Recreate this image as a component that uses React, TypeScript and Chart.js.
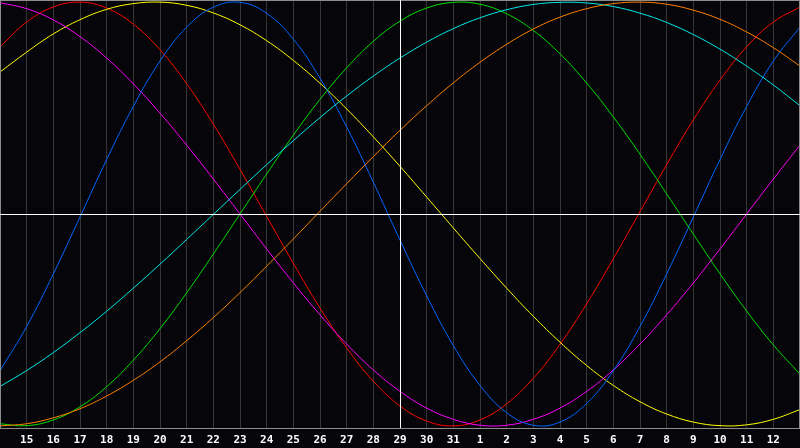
import { useEffect, useRef } from "react";
import { Chart, ChartConfiguration, Plugin, registerables } from "chart.js";

Chart.register(...registerables);

// days shown: 14th (left edge) through 13th of next month (right edge)
const days = [
  "14", "15", "16", "17", "18", "19", "20", "21", "22", "23", "24", "25", "26", "27", "28", "29", "30", "31",
  "1", "2", "3", "4", "5", "6", "7", "8", "9", "10", "11", "12", "13",
];
const todayIndex = 15; // "29"

const red = [
  0.789, 0.906, 0.977, 1.0, 0.972, 0.896, 0.775, 0.615, 0.424, 0.211, -0.011, -0.233, -0.444, -0.632, -0.789, -0.906,
  -0.977, -1.0, -0.972, -0.896, -0.775, -0.615, -0.424, -0.211, 0.011, 0.233, 0.444, 0.632, 0.789, 0.906, 0.977,
];
const yellow = [
  0.67, 0.764, 0.85, 0.917, 0.966, 0.993, 1.0, 0.985, 0.949, 0.893, 0.818, 0.725, 0.617, 0.496, 0.364, 0.225,
  0.08, -0.066, -0.21, -0.35, -0.483, -0.605, -0.715, -0.809, -0.886, -0.944, -0.982, -0.999, -0.995, -0.969, -0.923,
];
const magenta = [
  0.997, 0.969, 0.916, 0.837, 0.736, 0.614, 0.476, 0.325, 0.165, 0.0, -0.165, -0.325, -0.476, -0.614, -0.736, -0.837,
  -0.916, -0.969, -0.997, -0.997, -0.969, -0.916, -0.837, -0.736, -0.614, -0.476, -0.325, -0.165, 0.0, 0.165, 0.325,
];
const blue = [
  -0.74, -0.531, -0.283, -0.014, 0.257, 0.508, 0.722, 0.882, 0.976, 0.999, 0.947, 0.825, 0.641, 0.411, 0.15, -0.123,
  -0.386, -0.621, -0.809, -0.938, -0.997, -0.982, -0.894, -0.74, -0.531, -0.283, -0.014, 0.257, 0.508, 0.722, 0.882,
];
const green = [
  -0.99, -0.999, -0.972, -0.91, -0.815, -0.69, -0.541, -0.372, -0.189, 0.0, 0.189, 0.372, 0.541, 0.69, 0.815, 0.91,
  0.972, 0.999, 0.99, 0.945, 0.866, 0.756, 0.618, 0.458, 0.282, 0.095, -0.095, -0.282, -0.458, -0.618, -0.756,
];
const cyan = [
  -0.814, -0.739, -0.654, -0.56, -0.459, -0.35, -0.237, -0.12, -0.002, 0.116, 0.233, 0.346, 0.455, 0.557, 0.651,
  0.736, 0.811, 0.875, 0.926, 0.964, 0.989, 0.999, 0.996, 0.979, 0.948, 0.904, 0.847, 0.778, 0.698, 0.609, 0.511,
];
const orange = [
  -1.0, -0.99, -0.962, -0.919, -0.859, -0.785, -0.698, -0.598, -0.489, -0.371, -0.246, -0.118, 0.013, 0.143, 0.271,
  0.395, 0.511, 0.619, 0.716, 0.801, 0.873, 0.929, 0.969, 0.993, 1.0, 0.99, 0.962, 0.919, 0.859, 0.785, 0.698,
];

const BG = "#060509";

const framePlugin: Plugin = {
  id: "frame",
  beforeDraw(chart) {
    const { ctx, width, height } = chart;
    ctx.save();
    ctx.fillStyle = BG;
    ctx.fillRect(0, 0, width, height);
    ctx.restore();
  },
  afterDatasetsDraw(chart) {
    const { ctx, chartArea } = chart;
    const x = chart.scales.x;
    const y = chart.scales.y;
    ctx.save();
    ctx.lineWidth = 1;
    // outer border
    ctx.strokeStyle = "#8c8c8c";
    ctx.strokeRect(chartArea.left + 0.5, chartArea.top + 0.5, chartArea.right - chartArea.left - 1, chartArea.bottom - chartArea.top);
    // zero line and today line
    ctx.strokeStyle = "#ffffff";
    const zy = Math.round(y.getPixelForValue(0)) + 0.5;
    ctx.beginPath();
    ctx.moveTo(chartArea.left, zy);
    ctx.lineTo(chartArea.right, zy);
    const tx = Math.round(x.getPixelForValue(todayIndex)) + 0.5;
    ctx.moveTo(tx, chartArea.top);
    ctx.lineTo(tx, chartArea.bottom);
    ctx.stroke();
    ctx.restore();
  },
};

const line = (data: number[], color: string) => ({
  data,
  borderColor: color,
  backgroundColor: color,
  borderWidth: 1,
  pointRadius: 0,
  tension: 0.4,
  fill: false,
});

export default function App() {
  const chartRef = useRef<HTMLCanvasElement>(null);
  const chartInstance = useRef<Chart | null>(null);

  useEffect(() => {
    if (!chartRef.current) return;
    if (chartInstance.current) chartInstance.current.destroy();
    const ctx = chartRef.current.getContext("2d");
    if (!ctx) return;

    const config: ChartConfiguration = {
      type: "line",
      data: {
        labels: days,
        datasets: [
          line(orange, "#ff8000"),
          line(cyan, "#00e8e8"),
          line(green, "#00e000"),
          line(blue, "#0066ff"),
          line(magenta, "#ff00ff"),
          line(yellow, "#ffff00"),
          line(red, "#ff0000"),
        ],
      },
      options: {
        responsive: false,
        animation: false,
        maintainAspectRatio: false,
        layout: { padding: 0 },
        plugins: {
          legend: { display: false },
          tooltip: { enabled: false },
        },
        scales: {
          x: {
            offset: false,
            grid: { color: "#363636", drawTicks: false },
            border: { color: "#a8a8a8" },
            ticks: {
              color: "#ffffff",
              font: { family: "'DejaVu Sans Mono', monospace", weight: "bold", size: 11 },
              padding: 6,
              maxRotation: 0,
              autoSkip: false,
              callback: (_v, i) => (i === 0 || i === days.length - 1 ? "" : days[i]),
            },
            afterFit: (scale) => {
              scale.height = 20;
              scale.paddingLeft = 0;
              scale.paddingRight = 0;
            },
          },
          y: {
            display: false,
            min: -1.01,
            max: 1.01,
          },
        },
      },
      plugins: [framePlugin],
    };

    chartInstance.current = new Chart(ctx, config);
    return () => {
      if (chartInstance.current) chartInstance.current.destroy();
    };
  }, []);

  return (
    <div style={{ position: "fixed", left: 0, top: 0, width: 800, height: 448, background: BG }}>
      <canvas ref={chartRef} width={800} height={448} />
    </div>
  );
}
